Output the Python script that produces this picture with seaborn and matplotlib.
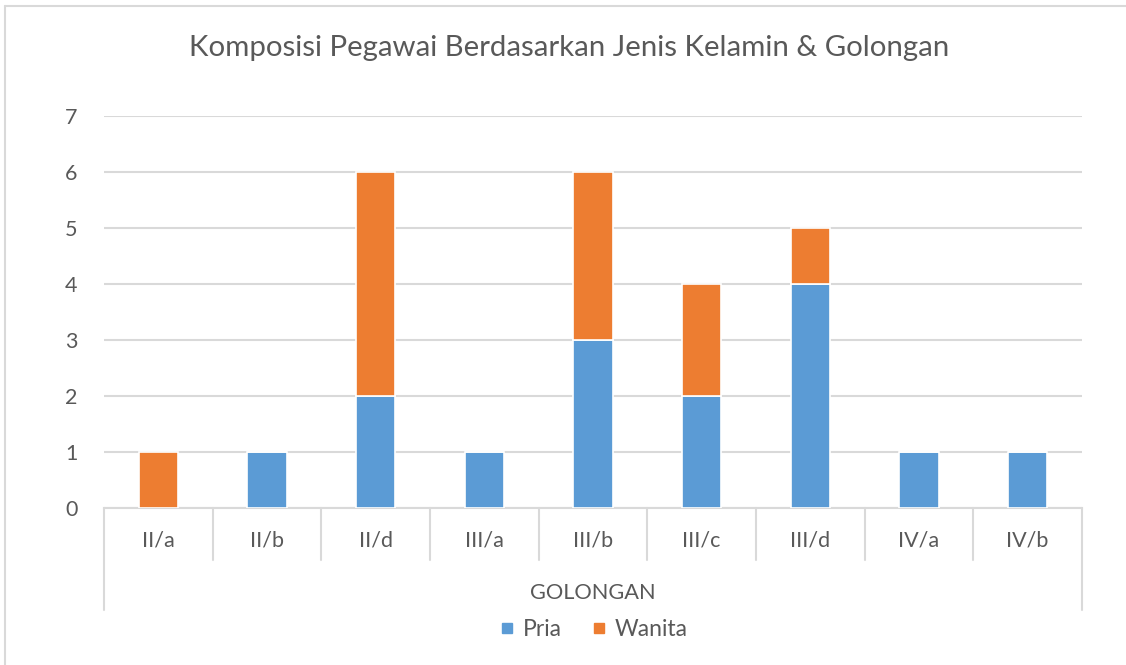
import matplotlib
matplotlib.use("Agg")
import matplotlib.pyplot as plt
import matplotlib.transforms as mtransforms
from matplotlib.lines import Line2D
import pandas as pd
import seaborn as sns

golongan = ["II/a", "II/b", "II/d", "III/a", "III/b", "III/c", "III/d", "IV/a", "IV/b"]
pria = [0, 1, 2, 1, 3, 2, 4, 1, 1]
wanita = [1, 0, 4, 0, 3, 2, 1, 0, 0]
title = "Komposisi Pegawai Berdasarkan Jenis Kelamin & Golongan"

BLUE = "#5B9BD5"
ORANGE = "#ED7D31"
TXT = "#595959"
GRID = "#D9D9D9"

sns.set_theme(style="white")
plt.rcParams["font.family"] = ["Lato", "DejaVu Sans"]

df = pd.DataFrame({"golongan": golongan, "Pria": pria, "Wanita": wanita})

W, H = 1126, 665
fig = plt.figure(figsize=(W / 100, H / 100), dpi=100)
ax = fig.add_axes([104 / W, (H - 508) / H, (1082 - 104) / W, (508 - 116) / H])

sns.barplot(data=df, x="golongan", y="Pria", color=BLUE, saturation=1, width=0.36,
            edgecolor="white", linewidth=1.2, ax=ax, zorder=3)
sns.barplot(data=df, x="golongan", y="Wanita", bottom=df["Pria"], color=ORANGE,
            saturation=1, width=0.36, edgecolor="white", linewidth=1.2, ax=ax, zorder=3)

ax.set_ylim(0, 7)
ax.set_xlim(-0.5, len(golongan) - 0.5)
ax.set_yticks(range(0, 8))
ax.yaxis.grid(True, color=GRID, linewidth=1.5, zorder=0)
ax.set_axisbelow(True)
for s in ["top", "right", "left"]:
    ax.spines[s].set_visible(False)
ax.spines["bottom"].set_color(GRID)
ax.spines["bottom"].set_linewidth(1.5)
ax.tick_params(axis="y", length=0, pad=19, labelsize=15.5, labelcolor=TXT)
ax.tick_params(axis="x", length=0, pad=16, labelsize=15.5, labelcolor=TXT)
ax.set_xlabel("")
ax.set_ylabel("")

# category separators of the multi-level axis
trans = mtransforms.blended_transform_factory(ax.transData, ax.transAxes)
n = len(golongan)
for i in range(n + 1):
    low = -0.26 if i in (0, n) else -0.133
    ax.plot([i - 0.5, i - 0.5], [0, low], color=GRID, linewidth=1.5,
            transform=trans, clip_on=False)

fig.text(593 / W, 1 - 593 / H, "GOLONGAN", ha="center", va="center",
         fontsize=15.7, color=TXT)
fig.text(569 / W, 1 - 48 / H, title, ha="center", va="center",
         fontsize=21.2, color=TXT)

handles = [Line2D([], [], marker="s", linestyle="", markersize=7, color=BLUE),
           Line2D([], [], marker="s", linestyle="", markersize=7, color=ORANGE)]
leg = fig.legend(handles, ["Pria", "Wanita"], loc="center", ncol=2,
                 bbox_to_anchor=(593 / W, 1 - 630 / H), frameon=False,
                 fontsize=16.5, handletextpad=0.3, columnspacing=1.2,
                 handlelength=0.8)
for t in leg.get_texts():
    t.set_color(TXT)

# chart border (top and left edges only are visible)
fig.add_artist(Line2D([5 / W, 1.0], [1 - 6 / H, 1 - 6 / H], color=GRID,
                      linewidth=1.5, transform=fig.transFigure))
fig.add_artist(Line2D([5 / W, 5 / W], [0, 1 - 6 / H], color=GRID,
                      linewidth=1.5, transform=fig.transFigure))

fig.savefig("out.png", dpi=100)
